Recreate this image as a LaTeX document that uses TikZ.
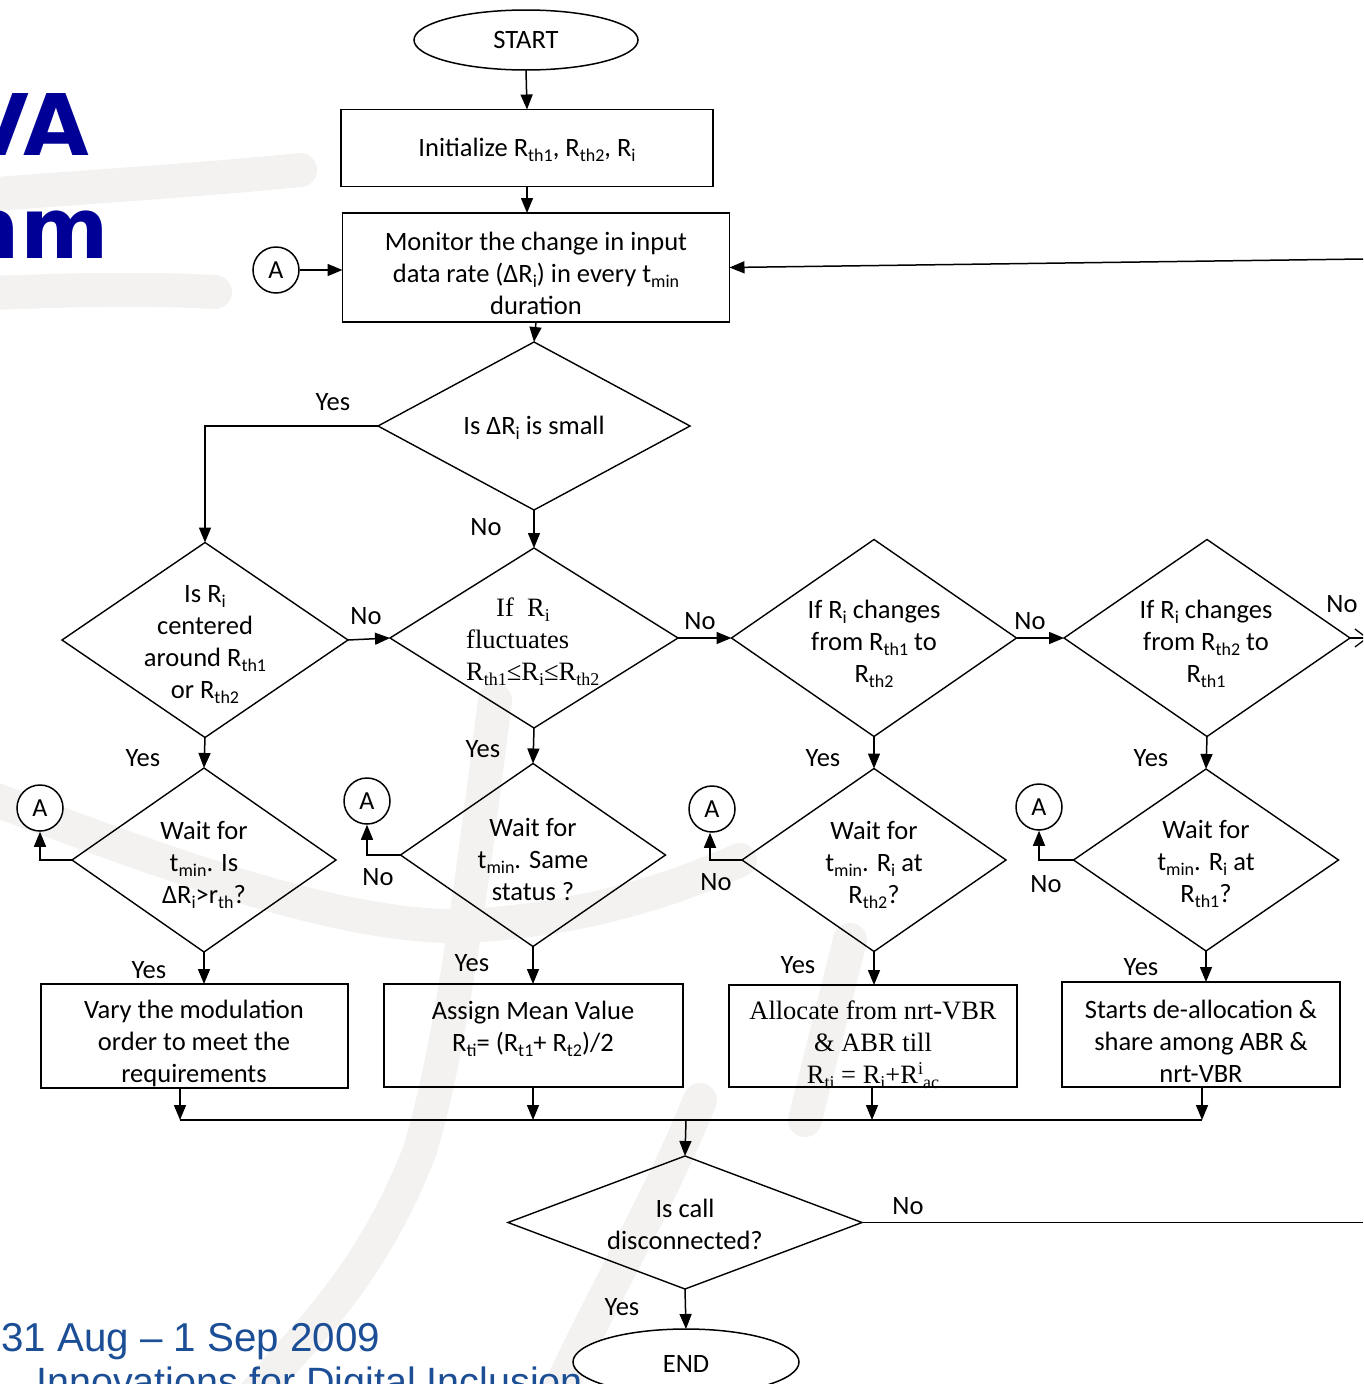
\documentclass[tikz,border=0pt]{standalone}
\usepackage{fontspec}
\setmainfont{Carlito}
\newfontfamily\tnr{Liberation Serif}
\newfontfamily\ars{Liberation Sans}
\newfontfamily\dvs{DejaVu Sans}
\usetikzlibrary{shapes.geometric,arrows.meta}
\newcommand\sbs[1]{\raisebox{-5pt}{\fontsize{18}{18}\selectfont #1}}
\newcommand\sps[1]{\raisebox{9pt}{\fontsize{18}{18}\selectfont #1}}
\definecolor{titleblue}{RGB}{0,0,150}
\definecolor{dateblue}{RGB}{28,78,150}
\definecolor{wm}{RGB}{243,242,240}
\begin{document}
\begin{tikzpicture}[x=1pt,y=-1pt,
  arr/.style={line width=1.5pt,-{Triangle[length=15pt,width=12pt]}},
  ln/.style={line width=1.5pt},
  wmband/.style={draw=wm,line width=34pt,line cap=round},
  dia/.style={diamond,draw,line width=1.4pt,inner sep=0pt,outer sep=0pt},
  box/.style={rectangle,draw,line width=1.8pt,inner sep=0pt,outer sep=0pt},
  term/.style={ellipse,draw,line width=1.5pt,inner sep=0pt,outer sep=0pt,fill=white},
  txt/.style={align=center,font=\fontsize{26.5}{32}\selectfont,inner sep=0pt},
  ttxt/.style={align=center,font=\tnr\fontsize{26.5}{32}\selectfont,inner sep=0pt},
  lbl/.style={font=\fontsize{26.5}{30}\selectfont,inner sep=0pt},
  conA/.style={circle,draw,line width=1.5pt,minimum size=46pt,inner sep=0pt,fill=white,font=\fontsize{26}{28}\selectfont}]
\useasboundingbox (0,0) rectangle (1363,1384);
\begin{scope}
\clip (0,0) rectangle (1363,1384);
% faint watermark
\draw[wmband] (-30,790) .. controls (180,870) and (360,935) .. (480,925) .. controls (580,918) and (660,895) .. (740,860);
\draw[wmband] (495,700) .. controls (470,900) and (450,1050) .. (420,1150) .. controls (370,1280) and (300,1340) .. (250,1400);
\draw[wmband] (700,1100) .. controls (660,1200) and (600,1300) .. (555,1400);
\draw[wmband] (850,940) -- (805,1120);
\draw[wmband] (-30,196) .. controls (100,186) and (200,180) .. (300,170);
\draw[wmband] (-30,294) .. controls (60,290) and (140,288) .. (215,292);
% background texts
\node[anchor=base east,inner sep=0pt,text=titleblue,font=\dvs\bfseries\fontsize{85}{90}\selectfont] (t1) at (89,155) {VA};
\node[anchor=base east,inner sep=0pt,text=titleblue,font=\dvs\bfseries\fontsize{85}{90}\selectfont] (t2) at (109,258) {nm};
\node[anchor=base west,inner sep=0pt,text=dateblue,font=\ars\fontsize{40.3}{44}\selectfont] (t3) at (1,1351) {31 Aug – 1 Sep 2009};
\node[anchor=base west,inner sep=0pt,text=dateblue,font=\ars\fontsize{39.5}{44}\selectfont] (t4) at (36,1395) {Innovations for Digital Inclusion};

% terminals and boxes
\node[term,minimum width=224pt,minimum height=60pt] (start) at (526,40) {};
\node[txt] (startt) at (start) {START};
\node[box,minimum width=372pt,minimum height=77pt] (init) at (527,148) {};
\node[txt] (initt) at (527,150) {Initialize R\sbs{th1}, R\sbs{th2}, R\sbs{i}};
\node[box,minimum width=387pt,minimum height=109pt] (mon) at (536,267.5) {};
\node[txt] (mont) at (536,273) {Monitor the change in input\\data rate (ΔR\sbs{i}) in every t\sbs{min}\\duration};

\node[conA] (a1) at (276,270) {A};
\coordinate (rin) at (1363,259);

% diamonds
\node[dia,minimum width=312pt,minimum height=168pt] (d1) at (534,426) {};
\node[txt] (d1t) at (534,428) {Is ΔR\sbs{i} is small};

\node[dia,minimum width=286pt,minimum height=195pt] (d2) at (205,640) {};
\node[txt] (d2t) at (205,645) {Is R\sbs{i}\\centered\\around R\sbs{th1}\\or R\sbs{th2}};

\node[dia,minimum width=288pt,minimum height=180pt] (d3) at (534,638) {};
\node[align=left,anchor=west,font=\tnr\fontsize{26.5}{32}\selectfont,inner sep=0pt] (d3t) at (466,642) {\hspace*{30pt}If~ R\sbs{i}\\fluctuates\\R\sbs{th1}≤R\sbs{i}≤R\sbs{th2}};

\node[dia,minimum width=285pt,minimum height=197pt] (d4) at (874,638) {};
\node[txt] (d4t) at (874,644) {If R\sbs{i} changes\\from R\sbs{th1} to\\R\sbs{th2}};

\node[dia,minimum width=286pt,minimum height=197pt] (d5) at (1207,638) {};
\node[txt] (d5t) at (1206,644) {If R\sbs{i} changes\\from R\sbs{th2} to\\R\sbs{th1}};

\node[dia,minimum width=264pt,minimum height=184pt] (d6) at (204,860) {};
\node[txt] (d6t) at (204,865) {Wait for\\t\sbs{min}. Is\\ΔR\sbs{i}>r\sbs{th}?};

\node[dia,minimum width=265pt,minimum height=183pt] (d7) at (533,855) {};
\node[txt] (d7t) at (533,859) {Wait for\\t\sbs{min}. Same\\status ?};

\node[dia,minimum width=264pt,minimum height=183pt] (d8) at (874,860) {};
\node[txt] (d8t) at (874,865) {Wait for\\t\sbs{min}. R\sbs{i} at\\R\sbs{th2}?};

\node[dia,minimum width=265pt,minimum height=182pt] (d9) at (1206,860) {};
\node[txt] (d9t) at (1206,864) {Wait for\\t\sbs{min}. R\sbs{i} at\\R\sbs{th1}?};

\node[conA] (a2) at (40,808) {A};
\node[conA] (a3) at (367,801) {A};
\node[conA] (a4) at (712,809) {A};
\node[conA] (a5) at (1039,807) {A};

% action boxes
\node[box,minimum width=307pt,minimum height=104pt] (b1) at (194.5,1036) {};
\node[txt] (b1t) at (194,1043) {Vary the modulation\\order to meet the\\requirements};
\node[box,minimum width=299pt,minimum height=103pt] (b2) at (533.5,1035.5) {};
\node[txt] (b2t) at (533,1029) {Assign Mean Value\\R\sbs{ti}= (R\sbs{t1}+ R\sbs{t2})/2};
\node[box,minimum width=288pt,minimum height=102pt] (b3) at (873,1036) {};
\node[ttxt] (b3t) at (873,1045) {Allocate from nrt-VBR\\\& ABR till\\R\sbs{ti} = R\sbs{i}+R\sps{i}\sbs{ac}};
\node[box,minimum width=278pt,minimum height=105pt] (b4) at (1201,1034.5) {};
\node[txt] (b4t) at (1201,1041) {Starts de-allocation \&\\share among ABR \&\\nrt-VBR};

\node[dia,minimum width=354pt,minimum height=133pt] (d10) at (685,1222.5) {};
\node[txt] (d10t) at (685,1224) {Is call\\disconnected?};
\node[term,minimum width=226pt,minimum height=66pt] (end) at (686,1362) {};
\node[txt] (endt) at (686,1364) {END};

% connectors
\draw[arr] (start.south) -- (init.north);
\draw[arr] (init.south) -- (mon.north -| init.south);
\draw[arr] (a1.east) -- (mon.west |- a1.east);
\draw[arr] (rin) -- (mon.east);
\draw[arr] (mon.south) -- (d1.north);
\draw[arr] (d1.west) -| (d2.north);
\draw[arr] (d1.south) -- (d3.north);
\draw[arr] (d2.east) -- (d3.west);
\draw[arr] (d3.east) -- (d4.west);
\draw[arr] (d4.east) -- (d5.west);
\coordinate (d5out) at (1368,638);
\draw[line width=1.3pt,-{Straight Barb[length=12pt,width=18pt]}] (d5.east) -- (d5out);
\draw[arr] (d2.south) -- (d6.north);
\draw[arr] (d3.south) -- (d7.north);
\draw[arr] (d4.south) -- (d8.north);
\draw[arr] (d5.south) -- (d9.north);
\draw[arr] (d6.west) -| (a2.south);
\draw[arr] (d7.west) -| (a3.south);
\draw[arr] (d8.west) -| ([xshift=-2pt]a4.south);
\draw[arr] (d9.west) -| (a5.south);
\draw[arr] (d6.south) -- (b1.north -| d6.south);
\draw[arr] (d7.south) -- (b2.north -| d7.south);
\draw[arr] (d8.south) -- (b3.north -| d8.south);
\draw[arr] (d9.south) -- (b4.north -| d9.south);
\coordinate (j1) at (180,1120);
\coordinate (j2) at (533,1120);
\coordinate (j3) at (872,1120);
\coordinate (j4) at (1202,1120);
\coordinate (jm) at (686,1120);
\draw[arr] (b1.south -| j1) -- (j1);
\draw[arr] (b2.south -| j2) -- (j2);
\draw[arr] (b3.south -| j3) -- (j3);
\draw[arr] (b4.south -| j4) -- (j4);
\draw[ln] (j1) -- (j4);
\draw[arr] (jm) -- (d10.north);
\coordinate (d10out) at (1363,1222.5);
\draw[ln] (d10.east) -- (d10out);
\draw[arr] (d10.south) -- (end.north);

% labels
\node[lbl] (l1) at (333,402) {Yes};
\node[lbl] (l2) at (486,527) {No};
\node[lbl] (l3) at (366,616) {No};
\node[lbl] (l4) at (700,621) {No};
\node[lbl] (l5) at (1030,621) {No};
\node[lbl] (l6) at (1342,604) {No};
\node[lbl] (l7) at (143,758) {Yes};
\node[lbl] (l8) at (483,749) {Yes};
\node[lbl] (l9) at (823,758) {Yes};
\node[lbl] (l10) at (1151,758) {Yes};
\node[lbl] (l11) at (378,877) {No};
\node[lbl] (l12) at (716,882) {No};
\node[lbl] (l13) at (1046,884) {No};
\node[lbl] (l14) at (149,970) {Yes};
\node[lbl] (l15) at (472,963) {Yes};
\node[lbl] (l16) at (798,965) {Yes};
\node[lbl] (l17) at (1141,967) {Yes};
\node[lbl] (l18) at (908,1206) {No};
\node[lbl] (l19) at (622,1307) {Yes};
\end{scope}
\end{tikzpicture}
\end{document}
